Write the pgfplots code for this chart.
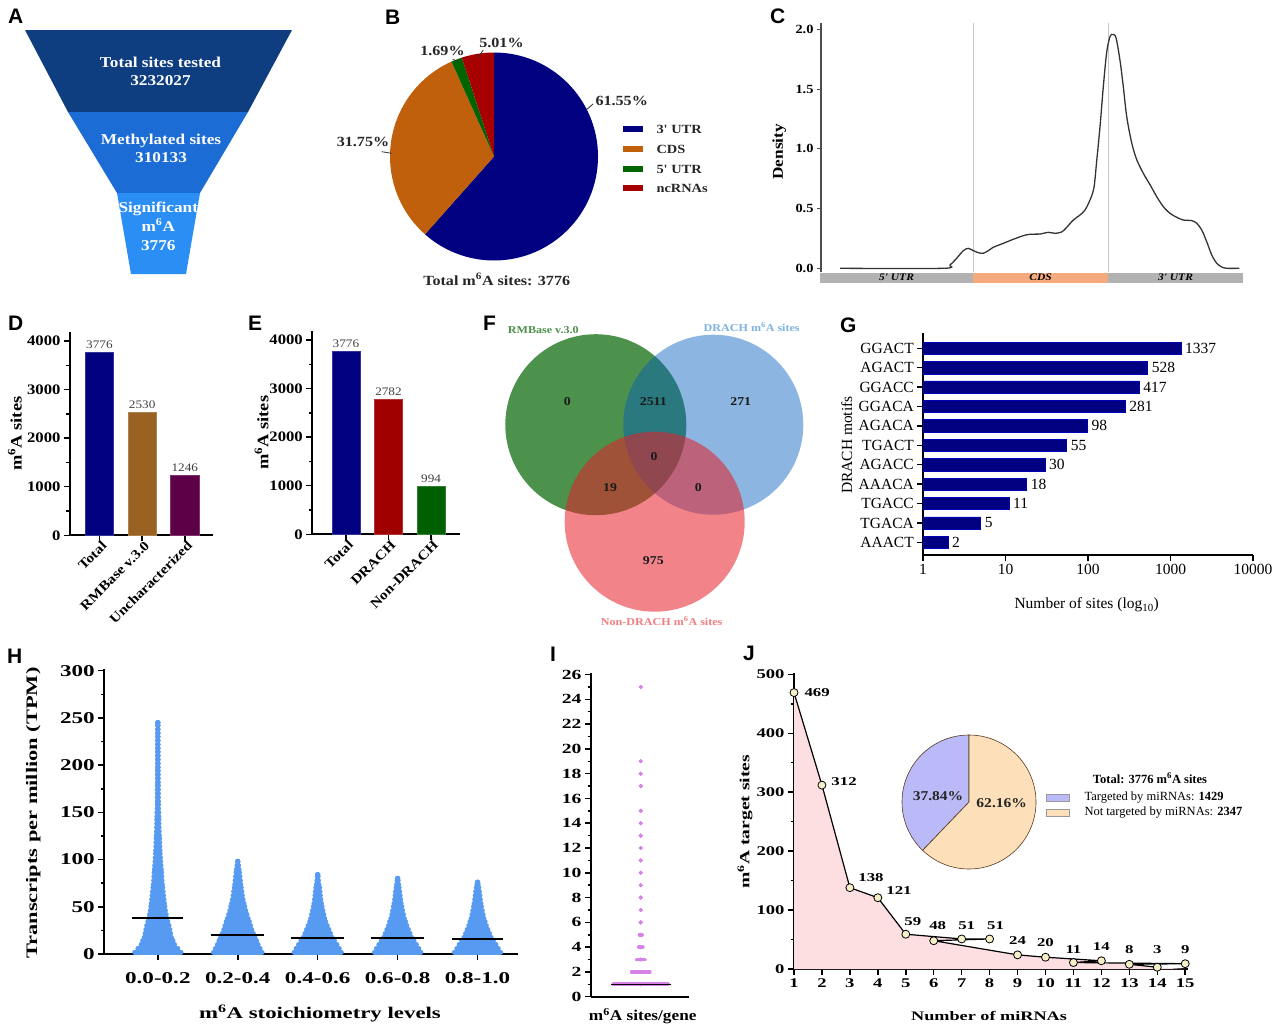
\documentclass[border=0pt]{standalone}
\usepackage{fontspec}
\setmainfont{Liberation Serif}
\newfontfamily\ws[FakeStretch=1.15]{Liberation Serif}
\newfontfamily\xws[FakeStretch=1.4]{Liberation Serif}
\newfontfamily\pan{Liberation Sans}
\usepackage{pgfplots}
\pgfplotsset{compat=1.18}
\newcommand{\fs}[1]{\fontsize{#1}{#1}\selectfont}
\newcommand{\mA}{m\textsuperscript{6}A}
\definecolor{navyb}{RGB}{0,0,128}
\definecolor{cdsor}{RGB}{193,96,12}
\definecolor{utrgreen}{RGB}{0,100,0}
\definecolor{ncred}{RGB}{166,0,0}
\definecolor{fun1}{RGB}{14,62,128}
\definecolor{fun2}{RGB}{28,108,214}
\definecolor{fun3}{RGB}{42,142,245}
\definecolor{rmbrown}{RGB}{153,97,34}
\definecolor{uncpurp}{RGB}{94,0,72}
\definecolor{drachred}{RGB}{160,0,0}
\definecolor{ndgreen}{RGB}{0,95,0}
\definecolor{vgreen}{RGB}{76,146,76}
\definecolor{vblue}{RGB}{0,92,190}
\definecolor{vred}{RGB}{230,30,40}
\definecolor{vgreentxt}{RGB}{75,145,75}
\definecolor{vbluetxt}{RGB}{125,178,225}
\definecolor{vredtxt}{RGB}{240,125,130}
\definecolor{swarm}{RGB}{86,154,242}
\definecolor{idots}{RGB}{214,130,232}
\definecolor{jpink}{RGB}{253,222,225}
\definecolor{jmark}{RGB}{245,240,200}
\definecolor{lav}{RGB}{186,186,248}
\definecolor{peach}{RGB}{253,223,185}
\definecolor{cgray}{RGB}{178,178,178}
\definecolor{csalmon}{RGB}{244,170,125}
\pgfkeys{/pgf/number format/.cd,1000 sep={},assume math mode=true}
\pgfplotsset{
  base/.style={scale only axis, anchor=south west, clip=false, axis lines*=left,
    axis line style={line width=1.8pt, black}, tick align=outside,
    major tick length=6pt, minor tick length=3.5pt,
    tick style={black, line width=1.5pt}},
  swarmc/.style n args={3}{only marks, mark=*, mark size=#2, color=#1,
    mark options={draw=none, fill=#1},
    error bars/.cd, x dir=both, x explicit, error mark=none,
    error bar style={line width=#3, line cap=round, color=#1}},
}
\begin{document}
\begin{tikzpicture}
\path[use as bounding box] (0,0) rectangle (1280pt,-1029pt);

% ---------------- C: density ----------------
\begin{axis}[scale only axis, anchor=south west, clip=false,
  width=422pt, height=249pt, at={(821pt,-271.7pt)},
  xmin=1, xmax=423, ymin=-0.0285, ymax=2.056,
  axis x line=none, axis y line*=left, xtick=\empty,
  axis line style={line width=1.2pt, black!70},
  ytick={0,0.5,1,1.5,2}, tick align=outside, major tick length=4pt,
  tick style={black!70, line width=1pt},
  yticklabel style={font=\ws\bfseries\fs{12.5}, /pgf/number format/.cd, fixed, fixed zerofill, precision=1},
  ylabel={Density}, ylabel style={font=\ws\bfseries\fs{15}, at={(axis description cs:-0.099,0.482)}, anchor=center}]
\addplot[black!22, line width=1pt] coordinates {(153.3,-0.0285) (153.3,2.056)};
\addplot[black!22, line width=1pt] coordinates {(288,-0.0285) (288,2.056)};
\addplot[fill=cgray, draw=none] coordinates {(0,-0.037) (153.3,-0.037) (153.3,-0.12) (0,-0.12)} --cycle;
\addplot[fill=csalmon, draw=none] coordinates {(153.3,-0.037) (288,-0.037) (288,-0.12) (153.3,-0.12)} --cycle;
\addplot[fill=cgray, draw=none] coordinates {(288,-0.037) (423,-0.037) (423,-0.12) (288,-0.12)} --cycle;
\addplot[black!80, line width=1.3pt, smooth] coordinates {
(20,0) (123.3,0) (130,0.028) (136.7,0.084) (143.3,0.148) (148.3,0.167) (153.3,0.148)
(158.3,0.131) (163.3,0.126) (168.3,0.148) (173.3,0.176) (183.3,0.209) (193.3,0.243)
(203.3,0.273) (210,0.285) (220,0.287) (228.3,0.301) (235,0.293) (241.7,0.304)
(246.7,0.343) (253.3,0.404) (260,0.446) (265,0.488) (270,0.572) (274,0.678)
(276.7,0.9) (280,1.185) (283.3,1.52) (286.7,1.81) (290,1.94) (292.7,1.958)
(296,1.93) (300,1.74) (303.3,1.52) (306.7,1.27) (311.7,1.05) (316.7,0.91)
(323.3,0.795) (330,0.70) (336.7,0.60) (343.3,0.516) (350,0.46) (356.7,0.427)
(363.3,0.404) (371.7,0.399) (376.7,0.377) (381.7,0.321) (386.7,0.223)
(391.7,0.112) (396.7,0.042) (401.7,0.011) (406.7,0) (419.3,0)};
\node[font=\ws\bfseries\itshape\fs{10}] at (axis cs:76.5,-0.0785) {5' UTR};
\node[font=\ws\bfseries\itshape\fs{10}] at (axis cs:220.6,-0.0785) {CDS};
\node[font=\ws\bfseries\itshape\fs{10}] at (axis cs:355.5,-0.0785) {3' UTR};
\end{axis}

% ---------------- D ----------------
\begin{axis}[base, width=143pt, height=203.6pt, at={(70pt,-535.3pt)},
  xmin=-0.69, xmax=2.66, ymin=0, ymax=4192,
  ybar, bar width=28.3pt, bar shift=0pt,
  ytick={0,1000,2000,3000,4000}, minor y tick num=1,
  xtick={0,1,2}, xticklabels={Total,RMBase v.3.0,Uncharacterized},
  yticklabel style={font=\ws\bfseries\fs{14.5}},
  xticklabel style={font=\ws\bfseries\fs{13.5}, rotate=45, anchor=east, inner sep=1pt, xshift=3pt, yshift=-5pt},
  ylabel={\mA\ sites}, ylabel style={font=\ws\bfseries\fs{16}, at={(axis description cs:-0.385,0.5)}, anchor=center},
  nodes near coords, nodes near coords style={font=\ws\fs{11.5}, text=black!75}]
\addplot[fill=navyb, draw=navyb!80!white] coordinates {(0,3776)};
\addplot[fill=rmbrown, draw=rmbrown!80!white] coordinates {(1,2530)};
\addplot[fill=uncpurp, draw=uncpurp!80!white] coordinates {(2,1246)};
\end{axis}

% ---------------- E ----------------
\begin{axis}[base, width=147.7pt, height=203.3pt, at={(312.3pt,-534.3pt)},
  xmin=-0.79, xmax=2.68, ymin=0, ymax=4185,
  ybar, bar width=28.3pt, bar shift=0pt,
  ytick={0,1000,2000,3000,4000}, minor y tick num=1,
  xtick={0,1,2}, xticklabels={Total,DRACH,Non-DRACH},
  yticklabel style={font=\ws\bfseries\fs{14.5}},
  xticklabel style={font=\ws\bfseries\fs{13.5}, rotate=45, anchor=east, inner sep=1pt, xshift=3pt, yshift=-5pt},
  ylabel={\mA\ sites}, ylabel style={font=\ws\bfseries\fs{16}, at={(axis description cs:-0.343,0.5)}, anchor=center},
  nodes near coords, nodes near coords style={font=\ws\fs{11.5}, text=black!75}]
\addplot[fill=navyb, draw=navyb!80!white] coordinates {(0,3776)};
\addplot[fill=drachred, draw=drachred!80!white] coordinates {(1,2782)};
\addplot[fill=ndgreen, draw=ndgreen!80!white] coordinates {(2,994)};
\end{axis}

% ---------------- G ----------------
\begin{axis}[base, width=330pt, height=221.7pt, at={(923pt,-555pt)},
  xmode=log, xmin=1, xmax=10000, ymin=-0.65, ymax=10.77,
  xbar, bar width=12.3pt, bar shift=0pt, xminorticks=false,
  axis line style={line width=1.6pt},
  xtick={1,10,100,1000,10000}, xticklabels={1,10,100,1000,10000},
  ytick={0,...,10}, yticklabels={AAACT,TGACA,TGACC,AAACA,AGACC,TGACT,AGACA,GGACA,GGACC,AGACT,GGACT},
  tick label style={font=\fs{15.5}, inner sep=1pt},
  yticklabel style={xshift=-2pt},
  xticklabel style={yshift=-2pt},
  xlabel={Number of sites (log\textsubscript{10})},
  xlabel style={font=\fs{15.5}, at={(axis description cs:0.496,-0.2255)}, anchor=center},
  ylabel={DRACH motifs},
  ylabel style={font=\fs{15.5}, at={(axis description cs:-0.231,0.496)}, anchor=center},
  nodes near coords, point meta=explicit symbolic,
  nodes near coords style={font=\fs{15.5}, anchor=west, inner sep=1pt, xshift=3pt}]
\addplot[fill=navyb, draw=blue!45!navyb, line width=0.6pt] table[x=v, y=p, meta=l] {
v p l
2 0 2
5 1 5
11 2 11
18 3 18
30 4 30
55 5 55
98 6 98
281 7 281
417 8 417
528 9 528
1337 10 1337
};
\end{axis}

% ---------------- H ----------------
\begin{axis}[base, width=414pt, height=284.7pt, at={(104.3pt,-954pt)},
  xmin=-0.67, xmax=4.51, ymin=0, ymax=301.5,
  ytick={0,50,...,300}, minor y tick num=1,
  xtick={0,...,4}, xticklabels={0.0-0.2,0.2-0.4,0.4-0.6,0.6-0.8,0.8-1.0},
  tick label style={font=\xws\bfseries\fs{16.5}},
  xticklabel style={yshift=-9pt},
  ylabel={Transcripts per million (TPM)},
  ylabel style={font=\xws\bfseries\fs{16}, at={(axis description cs:-0.1715,0.495)}, anchor=center},
  xlabel={\mA\ stoichiometry levels},
  xlabel style={font=\xws\bfseries\fs{16.3}, at={(axis description cs:0.521,-0.208)}, anchor=center}]
\addplot[swarmc={swarm}{2.5pt}{5pt}] table[x=x, y=y, x error=w] {
x y w
0 2 0.29
0 6 0.25
0 10 0.21
0 14 0.19
0 18 0.17
0 22 0.16
0 26 0.15
0 30 0.14
0 34 0.125
0 38 0.115
0 42 0.105
0 46 0.095
0 50 0.088
0 54 0.083
0 58 0.078
0 62 0.072
0 66 0.067
0 70 0.062
0 74 0.057
0 78 0.053
0 82 0.05
0 86 0.047
0 90 0.044
0 94 0.04
0 98 0.036
0 102 0.033
0 106 0.03
0 110 0.028
0 114 0.026
0 118 0.024
0 122 0.022
0 126 0.02
0 130 0.018
0 134 0.016
0 138 0.015
0 142 0.014
0 146 0.013
0 150 0.012
0 154 0.008
0 158 0.008
0 162 0.007
0 166 0.007
0 170 0.006
0 174 0.006
0 178 0.006
0 182 0.005
0 186 0.005
0 190 0.005
0 194 0.004
0 198 0.004
0 202 0.003
0 206 0.003
0 210 0.003
0 214 0.002
0 218 0.002
0 222 0.002
0 226 0.001
0 230 0.001
0 234 0.001
0 238 0
0 242 0
0 245 0
};
\addplot[swarmc={swarm}{2.5pt}{5pt}] table[x=x, y=y, x error=w] {
x y w
1 2 0.305
1 6 0.28
1 10 0.255
1 14 0.235
1 18 0.215
1 22 0.195
1 26 0.175
1 30 0.16
1 34 0.145
1 38 0.13
1 42 0.115
1 46 0.1
1 50 0.088
1 54 0.078
1 58 0.067
1 62 0.058
1 66 0.052
1 70 0.044
1 74 0.038
1 78 0.033
1 82 0.028
1 86 0.022
1 90 0.017
1 94 0.01
1 98 0
};
\addplot[swarmc={swarm}{2.5pt}{5pt}] table[x=x, y=y, x error=w] {
x y w
2 2 0.296
2 6 0.27
2 10 0.24
2 14 0.21
2 18 0.18
2 22 0.16
2 26 0.14
2 30 0.12
2 34 0.1
2 38 0.088
2 42 0.077
2 46 0.066
2 50 0.055
2 54 0.047
2 58 0.04
2 62 0.034
2 66 0.029
2 70 0.024
2 74 0.016
2 78 0.01
2 82 0.004
2 84 0
};
\addplot[swarmc={swarm}{2.5pt}{5pt}] table[x=x, y=y, x error=w] {
x y w
3 2 0.29
3 6 0.265
3 10 0.235
3 14 0.205
3 18 0.175
3 22 0.155
3 26 0.135
3 30 0.115
3 34 0.1
3 38 0.085
3 42 0.073
3 46 0.063
3 50 0.053
3 54 0.045
3 58 0.038
3 62 0.032
3 66 0.027
3 70 0.02
3 74 0.013
3 78 0.006
3 80 0
};
\addplot[swarmc={swarm}{2.5pt}{5pt}] table[x=x, y=y, x error=w] {
x y w
4 2 0.29
4 6 0.26
4 10 0.23
4 14 0.2
4 18 0.17
4 22 0.15
4 26 0.13
4 30 0.11
4 34 0.095
4 38 0.08
4 42 0.07
4 46 0.06
4 50 0.05
4 54 0.043
4 58 0.036
4 62 0.03
4 66 0.024
4 70 0.017
4 74 0.008
4 76 0
};
\end{axis}
% H overlay: means
\begin{axis}[scale only axis, anchor=south west, clip=false, hide axis,
  width=414pt, height=284.7pt, at={(104.3pt,-954pt)},
  xmin=-0.67, xmax=4.51, ymin=0, ymax=301.5]
\addplot[black, line width=2pt] coordinates {(-0.32,37.8) (0.32,37.8)};
\addplot[black, line width=2pt] coordinates {(0.67,20.1) (1.33,20.1)};
\addplot[black, line width=2pt] coordinates {(1.67,17.3) (2.33,17.3)};
\addplot[black, line width=2pt] coordinates {(2.67,17.3) (3.33,17.3)};
\addplot[black, line width=2pt] coordinates {(3.68,15.9) (4.32,15.9)};
\end{axis}

% ---------------- I ----------------
\begin{axis}[base, width=98.3pt, height=323.4pt, at={(591pt,-996.7pt)},
  xmin=0, xmax=1, ymin=0, ymax=26.1, xtick=\empty,
  ytick={0,2,...,26}, minor y tick num=1,
  tick label style={font=\xws\bfseries\fs{14}},
  xlabel={\mA\ sites/gene},
  xlabel style={font=\ws\bfseries\fs{15}, at={(axis description cs:0.526,-0.0597)}, anchor=center}]
\addplot[swarmc={idots}{1.9pt}{3.8pt}] table[x=x, y=y, x error=w] {
x y w
0.506 1 0.278
0.506 2 0.092
0.506 3 0.042
0.506 4 0.02
0.506 5 0.013
0.506 6 0
0.506 7 0
0.506 8 0
0.506 9 0
0.506 10 0
0.506 11 0
0.506 12 0
0.506 13 0
0.506 14 0
0.506 15 0
0.506 17 0
0.506 18 0
0.506 19 0
0.506 25 0
};
\end{axis}
\begin{axis}[scale only axis, anchor=south west, clip=false, hide axis,
  width=98.3pt, height=323.4pt, at={(591pt,-996.7pt)},
  xmin=0, xmax=1, ymin=0, ymax=26.1]
\addplot[black, line width=1.3pt] coordinates {(0.2,1) (0.81,1)};
\end{axis}

% ---------------- J ----------------
\begin{axis}[base, width=394pt, height=295.7pt, at={(794pt,-969pt)},
  xmin=1, xmax=15.1, ymin=0, ymax=501.7,
  xtick={1,...,15}, ytick={0,100,...,500}, minor y tick num=1,
  tick label style={font=\xws\bfseries\fs{13.3}},
  ylabel={\mA\ target sites},
  ylabel style={font=\xws\bfseries\fs{14}, at={(axis description cs:-0.124,0.498)}, anchor=center},
  xlabel={Number of miRNAs},
  xlabel style={font=\xws\bfseries\fs{13}, at={(axis description cs:0.495,-0.159)}, anchor=center}]
\addplot[fill=jpink, draw=none] coordinates {(1,0) (1,469) (2,312) (3,138) (4,121) (5,59) (7,51) (8,51) (6,48) (9,24) (10,20) (12,14) (11,11) (15,9) (13,8) (14,3) (15,0)} --cycle;
\addplot[black, line width=1.2pt] coordinates {(1,469) (2,312) (3,138) (4,121) (5,59) (7,51) (8,51) (6,48) (9,24) (10,20) (12,14) (11,11) (15,9) (13,8) (14,3)};
\addplot[only marks, mark=*, mark size=4pt, mark options={fill=jmark, draw=black, line width=0.8pt}] coordinates {(1,469) (2,312) (3,138) (4,121) (5,59) (6,48) (7,51) (8,51) (9,24) (10,20) (11,11) (12,14) (13,8) (14,3) (15,9)};
\begin{scope}[every node/.style={font=\xws\bfseries\fs{12}}]
\node[anchor=west, xshift=7pt] at (axis cs:1,469) {469};
\node[anchor=west, xshift=6pt, yshift=4pt] at (axis cs:2,312) {312};
\node[anchor=west, xshift=5pt, yshift=10pt] at (axis cs:3,138) {138};
\node[anchor=west, xshift=5pt, yshift=7pt] at (axis cs:4,121) {121};
\node[xshift=7pt, yshift=13pt] at (axis cs:5,59) {59};
\node[xshift=4pt, yshift=15pt] at (axis cs:6,48) {48};
\node[xshift=5pt, yshift=13pt] at (axis cs:7,51) {51};
\node[xshift=6pt, yshift=13pt] at (axis cs:8,51) {51};
\node[yshift=14pt] at (axis cs:9,24) {24};
\node[yshift=15pt] at (axis cs:10,20) {20};
\node[yshift=13pt] at (axis cs:11,11) {11};
\node[yshift=14pt] at (axis cs:12,14) {14};
\node[yshift=15pt] at (axis cs:13,8) {8};
\node[yshift=18pt] at (axis cs:14,3) {3};
\node[yshift=14pt] at (axis cs:15,9) {9};
\end{scope}
\end{axis}

% ---------------- canvas: A, B, F, J pie, letters ----------------
\begin{axis}[scale only axis, width=1280pt, height=1029pt, at={(0pt,-1029pt)}, anchor=south west,
  xmin=0, xmax=1280, ymin=-1029, ymax=0, hide axis, clip=false]
% A funnel
\addplot[fill=fun1, draw=none] coordinates {(25,-30) (292,-30) (248,-112) (68,-112)} --cycle;
\addplot[fill=fun2, draw=none] coordinates {(68,-112) (248,-112) (200,-193) (117,-193)} --cycle;
\addplot[fill=fun3, draw=none] coordinates {(117,-193) (200,-193) (186,-274) (131,-274)} --cycle;
\node[font=\ws\bfseries\fontsize{15}{18}\selectfont, text=white, align=center] at (160.5,-71) {Total sites tested\\3232027};
\node[font=\ws\bfseries\fontsize{15}{18}\selectfont, text=white, align=center] at (161,-148) {Methylated sites\\310133};
\node[font=\ws\bfseries\fontsize{15}{19}\selectfont, text=white, align=center] at (158.3,-226) {Significant\\\mA\\3776};
% B pie
\fill[navyb] (494,-156.5) -- ++(90:104pt) arc[start angle=90, end angle=-131.58, radius=104pt] -- cycle;
\fill[cdsor] (494,-156.5) -- ++(-131.58:104pt) arc[start angle=-131.58, end angle=-245.88, radius=104pt] -- cycle;
\fill[utrgreen] (494,-156.5) -- ++(-245.88:104pt) arc[start angle=-245.88, end angle=-251.96, radius=104pt] -- cycle;
\fill[ncred] (494,-156.5) -- ++(-251.96:104pt) arc[start angle=-251.96, end angle=-270, radius=104pt] -- cycle;
\draw[black!80, line width=0.8pt] (586,-110) -- (593,-104);
\draw[black!80, line width=0.8pt] (381.7,-151.7) -- (391.7,-153.3);
\draw[black!80, line width=0.8pt] (452.7,-59.3) -- (459.3,-62);
\draw[black!80, line width=0.8pt] (483.3,-50) -- (478.3,-56.7);
\begin{scope}[every node/.style={font=\ws\bfseries\fs{14}, text=black!85}]
\node[anchor=west] at (592,-101) {61.55\%};
\node at (363,-142) {31.75\%};
\node at (442.5,-51) {1.69\%};
\node at (501.5,-43) {5.01\%};
\node at (496.7,-279.3) {Total \mA\ sites: 3776};
\end{scope}
\fill[navyb] (623,-125.7) rectangle (643,-132.3);
\fill[cdsor] (623,-145.7) rectangle (643,-152.3);
\fill[utrgreen] (623,-165.7) rectangle (643,-172.3);
\fill[ncred] (623,-184.7) rectangle (643,-191.3);
\begin{scope}[every node/.style={font=\ws\bfseries\fs{12.5}, text=black!85, anchor=west}]
\node at (653,-129) {3' UTR};
\node at (653,-149) {CDS};
\node at (653,-169) {5' UTR};
\node at (653,-188) {ncRNAs};
\end{scope}
% F venn
\fill[vgreen] (595.8,-424.7) circle[radius=90.5pt];
\fill[vblue, fill opacity=0.45] (713.3,-424.7) circle[radius=90pt];
\fill[vred, fill opacity=0.55] (654.7,-521.7) circle[radius=90pt];
\begin{scope}[every node/.style={font=\ws\bfseries\fs{12}, text=black!90}]
\node at (567.3,-401.7) {0};
\node at (653.3,-401.7) {2511};
\node at (740.7,-401.7) {271};
\node at (654,-456.7) {0};
\node at (610,-487.7) {19};
\node at (698.3,-487.7) {0};
\node at (653.3,-561) {975};
\end{scope}
\node[font=\ws\bfseries\fs{10.5}, text=vgreentxt] at (543.3,-330) {RMBase v.3.0};
\node[font=\ws\bfseries\fs{10.5}, text=vbluetxt] at (751.7,-326.7) {DRACH \mA\ sites};
\node[font=\ws\bfseries\fs{10.5}, text=vredtxt] at (661.7,-621) {Non-DRACH \mA\ sites};
% J pie and legend
\filldraw[fill=lav, draw=black!55!brown, line width=0.6pt] (969,-802) -- ++(90:67pt) arc[start angle=90, end angle=226.2, radius=67pt] -- cycle;
\filldraw[fill=peach, draw=black!55!brown, line width=0.6pt] (969,-802) -- ++(226.2:67pt) arc[start angle=226.2, end angle=450, radius=67pt] -- cycle;
\node[font=\ws\bfseries\fs{13.5}, text=black!85] at (938,-796) {37.84\%};
\node[font=\ws\bfseries\fs{13.5}, text=black!85] at (1001.7,-803) {62.16\%};
\node[font=\bfseries\fs{12.5}] at (1150,-778.3) {Total: 3776 \mA\ sites};
\filldraw[fill=lav, draw=black!40, line width=0.5pt] (1046,-794) rectangle (1069,-801);
\filldraw[fill=peach, draw=black!40, line width=0.5pt] (1046,-809.5) rectangle (1069,-816.5);
\node[font=\fs{12.5}, anchor=west] at (1081,-797.5) {Targeted by miRNAs: \textbf{1429}};
\node[font=\fs{12.5}, anchor=west] at (1081,-813) {Not targeted by miRNAs: \textbf{2347}};
% panel letters
\begin{scope}[every node/.style={font=\pan\bfseries\fs{21}, anchor=base west, inner sep=0pt}]
\node at (8,-23) {A};
\node at (385,-24) {B};
\node at (770,-23) {C};
\node at (8,-330) {D};
\node at (248,-330) {E};
\node at (483,-330) {F};
\node at (840,-332) {G};
\node at (7,-663) {H};
\node at (550,-661) {I};
\node at (743,-660) {J};
\end{scope}
\end{axis}
\end{tikzpicture}
\end{document}
